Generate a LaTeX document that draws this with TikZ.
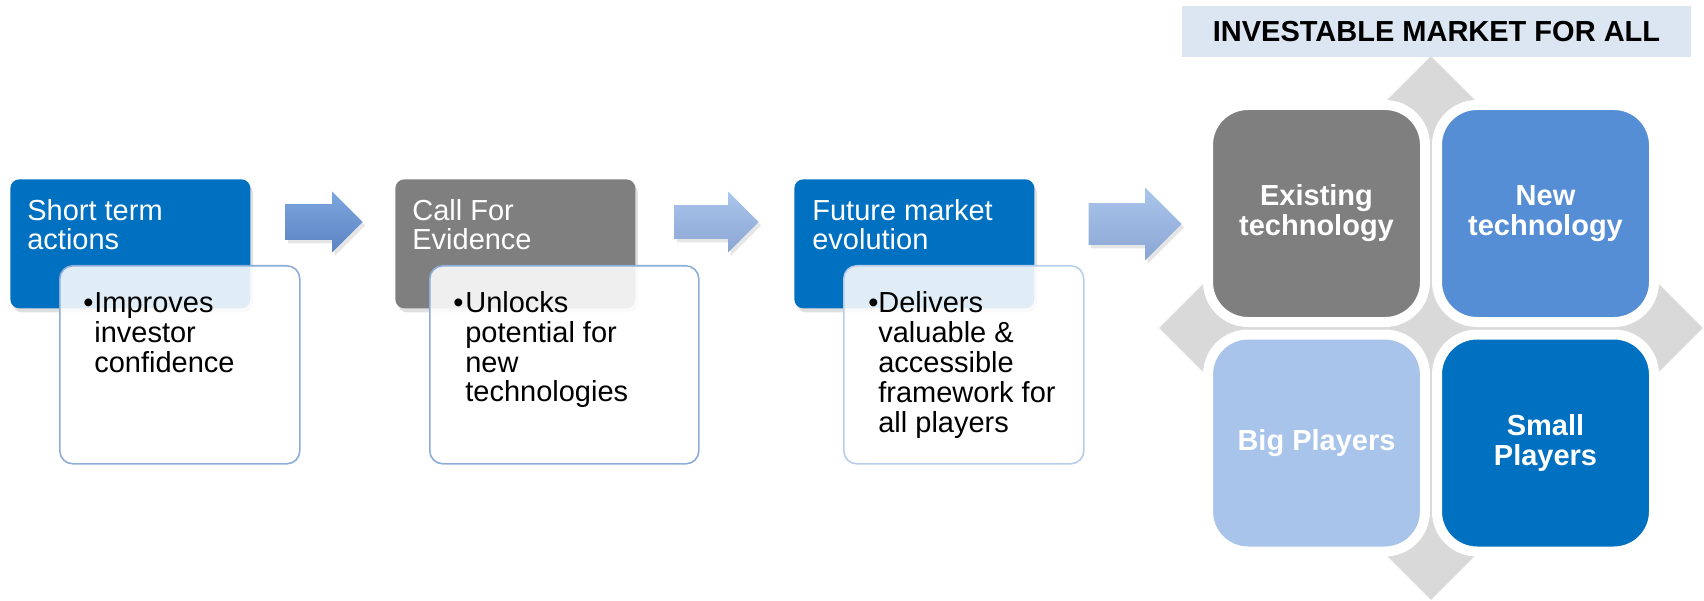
\documentclass[tikz,border=0pt]{standalone}
\usepackage{fontspec}
\setmainfont{Liberation Sans}
\usepackage{xcolor}
\usetikzlibrary{shapes.geometric,shapes.arrows,shadows}
\definecolor{headblue}{RGB}{0,112,192}
\definecolor{headgray}{RGB}{127,127,127}
\definecolor{newtech}{RGB}{85,142,213}
\definecolor{bigplayers}{RGB}{169,196,235}
\definecolor{backdrop}{RGB}{217,217,217}
\definecolor{banner}{RGB}{220,230,242}
\definecolor{bodyline}{RGB}{141,173,216}
\definecolor{bodylight}{RGB}{185,205,235}
\definecolor{darktop}{RGB}{125,166,222}
\definecolor{darkbot}{RGB}{92,132,195}
\definecolor{lighttop}{RGB}{170,198,236}
\definecolor{lightbot}{RGB}{138,166,211}
\newcommand{\bodyfont}{\fontsize{16.5}{17.07}\selectfont}
\tikzstyle{head}=[anchor=north west, minimum width=4.8cm, minimum height=2.58cm, rounded corners=0.18cm, inner sep=0pt,
  drop shadow={opacity=0.25, shadow xshift=0.05cm, shadow yshift=-0.08cm}]
\tikzstyle{body}=[anchor=north west, minimum height=3.96cm, rounded corners=0.26cm, inner sep=0pt,
  draw=bodyline, line width=0.9pt, fill=white, fill opacity=0.88]
\tikzstyle{cell}=[minimum size=4.34cm, rounded corners=0.8cm, draw=white, line width=0.2cm, inner sep=0pt,
  align=center, text=white, font=\bodyfont\bfseries]
%% multi-line texts sit on the baseline of their last line
\tikzset{headtext/.style={anchor=base west, inner sep=0pt, align=left, text=white, font=\bodyfont}}
\tikzset{bullettext/.style={anchor=base west, inner sep=0pt, align=left, font=\bodyfont}}
\tikzset{blockarrow/.style={single arrow, anchor=tip, single arrow tip angle=90, single arrow head indent=0pt, inner xsep=0pt,
  drop shadow={opacity=0.2, shadow xshift=0.05cm, shadow yshift=-0.07cm}}}

\begin{document}
\begin{tikzpicture}
  \useasboundingbox (0,0) rectangle (34.08,12);

  %% Steps along the top
  \draw (0.2,8.42) node[head,fill=headblue] (H1) {};
  \draw (7.9,8.42) node[head,fill=headgray] (H2) {};
  \draw (15.88,8.42) node[head,fill=headblue] (H3) {};

  \draw (0.54,7.0) node[headtext] (H1text) {Short term\\actions};
  \draw (8.24,7.0) node[headtext] (H2text) {Call For\\Evidence};
  \draw (16.24,7.0) node[headtext] (H3text) {Future market\\evolution};

  %% Bullet boxes laid over the steps
  \draw (1.18,6.7) node[body,minimum width=4.8cm] (B1) {};
  \draw (8.58,6.7) node[body,minimum width=5.38cm] (B2) {};
  \draw (16.86,6.7) node[body,minimum width=4.8cm,draw=bodylight] (B3) {};

  \draw (1.66,5.76) node[bullettext] (B1dot) {•};
  \draw (1.88,4.56) node[bullettext] (B1text) {Improves\\investor\\confidence};
  \draw (9.06,5.76) node[bullettext] (B2dot) {•};
  \draw (9.3,3.96) node[bullettext] (B2text) {Unlocks\\potential for\\new\\technologies};
  \draw (17.36,5.76) node[bullettext] (B3dot) {•};
  \draw (17.56,3.36) node[bullettext] (B3text) {Delivers\\valuable \&\\accessible\\framework for\\all players};

  %% Arrows between the steps, placed by their tips
  \draw (7.26,7.56) node[blockarrow,top color=darktop,bottom color=darkbot,
    minimum height=1.54cm,inner ysep=0.35cm,single arrow head extend=0.25cm] (A1) {};
  \draw (15.18,7.56) node[blockarrow,top color=lighttop,bottom color=lightbot,
    minimum height=1.68cm,inner ysep=0.33cm,single arrow head extend=0.27cm] (A2) {};
  \draw (23.64,7.52) node[blockarrow,top color=lighttop,bottom color=lightbot,
    minimum height=1.86cm,inner ysep=0.41cm,single arrow head extend=0.31cm] (A3) {};

  %% Market matrix
  \draw (28.62,5.44) node[diamond,fill=backdrop,minimum width=10.88cm,minimum height=10.88cm,inner sep=0pt] (grid) {};
  \draw (28.73,11.37) node[fill=banner,minimum width=10.18cm,minimum height=1.02cm,inner sep=0pt,
    font=\bodyfont\bfseries] (title) {INVESTABLE MARKET FOR ALL};

  \draw (26.33,7.73) node[cell,fill=headgray] (existing) {Existing\\technology};
  \draw (30.91,7.73) node[cell,fill=newtech] (newtech) {New\\technology};
  \draw (26.33,3.14) node[cell,fill=bigplayers] (big) {Big Players};
  \draw (30.91,3.14) node[cell,fill=headblue] (small) {Small\\Players};
\end{tikzpicture}
\end{document}
